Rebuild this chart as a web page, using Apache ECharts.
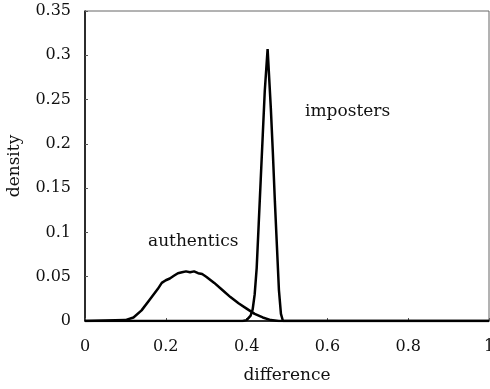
<!DOCTYPE html>
<html><head><meta charset="utf-8">
<script src="https://cdn.jsdelivr.net/npm/echarts@6/dist/echarts.min.js"></script>
<style>html,body{margin:0;padding:0;background:#fff}#c{width:490px;height:389px}</style>
</head><body><div id="c"></div>
<script>
var authX = [0, 0.10, 0.12, 0.14, 0.16, 0.18, 0.19, 0.20, 0.21, 0.22, 0.23, 0.24, 0.25, 0.26, 0.27, 0.28, 0.29, 0.30, 0.32, 0.34, 0.36, 0.38, 0.40, 0.42, 0.44, 0.46, 0.48, 1.0];
var authY = [0, 0.001, 0.004, 0.012, 0.024, 0.036, 0.043, 0.046, 0.048, 0.051, 0.054, 0.055, 0.056, 0.055, 0.056, 0.054, 0.053, 0.050, 0.043, 0.035, 0.027, 0.020, 0.014, 0.008, 0.004, 0.001, 0, 0];
var impX = [0, 0.39, 0.40, 0.41, 0.415, 0.42, 0.425, 0.43, 0.435, 0.44, 0.445, 0.452, 0.46, 0.465, 0.47, 0.475, 0.48, 0.485, 0.49, 1.0];
var impY = [0, 0, 0.001, 0.006, 0.013, 0.03, 0.06, 0.11, 0.16, 0.21, 0.26, 0.307, 0.24, 0.19, 0.135, 0.085, 0.035, 0.008, 0, 0];
var xTicks = ['0', '0.2', '0.4', '0.6', '0.8', '1'];
var yTicks = ['0', '0.05', '0.1', '0.15', '0.2', '0.25', '0.3', '0.35'];
var labels = ['authentics', 'imposters'];

function pairs(xs, ys) { return xs.map(function (x, i) { return [x, ys[i]]; }); }
var font = 'DejaVu Serif';
var chart = echarts.init(document.getElementById('c'), null, {renderer: 'canvas'});
chart.setOption({
  animation: false,
  grid: {left: 85, right: 1, top: 11, bottom: 68, show: true, borderColor: '#666', borderWidth: 1,
    containLabel: false, outerBoundsMode: 'none'},
  xAxis: {
    type: 'value', min: 0, max: 1, interval: 0.2,
    name: 'difference', nameLocation: 'middle', nameGap: 46,
    nameTextStyle: {fontFamily: font, fontSize: 17, color: '#111'},
    axisLine: {lineStyle: {color: '#000', width: 1.5}},
    axisTick: {show: true, inside: true, length: 3, lineStyle: {color: '#555'}},
    splitLine: {show: false},
    axisLabel: {margin: 18, fontFamily: font, fontSize: 16, color: '#111', hideOverlap: false,
      formatter: function (v) { return xTicks[Math.round(v / 0.2)]; }}
  },
  yAxis: {
    type: 'value', min: 0, max: 0.35, interval: 0.05,
    name: 'density', nameLocation: 'middle', nameGap: 62, nameRotate: 90,
    nameTextStyle: {fontFamily: font, fontSize: 17, color: '#111'},
    axisLine: {show: true, lineStyle: {color: '#000', width: 1.5}},
    axisTick: {show: true, inside: true, length: 3, lineStyle: {color: '#555'}},
    splitLine: {show: false},
    axisLabel: {margin: 14, fontFamily: font, fontSize: 16, color: '#111',
      formatter: function (v) { return yTicks[Math.round(v / 0.05)]; }}
  },
  series: [
    {type: 'line', data: pairs(authX, authY), showSymbol: false, lineStyle: {color: '#000', width: 2.5}},
    {type: 'line', data: pairs(impX, impY), showSymbol: false, lineStyle: {color: '#000', width: 2.5}}
  ],
  graphic: [
    {type: 'text', left: 148, top: 233, style: {text: labels[0], font: '17px "DejaVu Serif"', fill: '#111'}},
    {type: 'text', left: 305, top: 103, style: {text: labels[1], font: '17px "DejaVu Serif"', fill: '#111'}}
  ]
});
</script></body></html>
